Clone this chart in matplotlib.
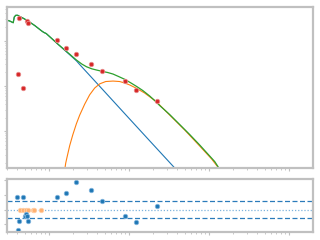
import numpy as np
import matplotlib
matplotlib.use("Agg")
import matplotlib.pyplot as plt

# observed points
data_x = [0.413, 0.425, 0.477, 0.535, 0.546, 1.27, 1.66, 2.19, 3.38, 4.63, 8.99, 12.3, 22.6]
data_y = [18.1, 313, 8.85, 269, 243, 102, 67.9, 50.0, 30.0, 21.0, 12.8, 8.0, 4.63]

# model curves
total_x = [0.296, 0.325, 0.360, 0.371, 0.387, 0.410, 0.434, 0.487, 0.551, 0.668, 0.818,
           0.866, 0.931, 1.09, 1.31, 1.73, 2.22, 2.59, 2.96, 3.45, 3.95, 4.77, 5.46,
           6.37, 7.50, 8.91, 10.6, 12.6, 15.0, 18.3, 21.8, 24.4, 28.2, 32.5, 43.4,
           57.9, 77.2, 103, 119, 131, 135]
total_y = [287, 273, 250, 334, 365, 365, 343, 310, 273, 217, 164,
           153, 144, 112, 83.2, 54.8, 37.4, 30.5, 26.6, 23.9, 22.5, 20.8, 19.8,
           18.3, 16.1, 14.0, 11.7, 9.70, 7.91, 5.98, 4.52, 3.68, 2.93, 2.33, 1.40,
           0.841, 0.493, 0.281, 0.212, 0.163, 0.124]

plaw_x = [0.296, 0.325, 0.360, 0.371, 0.387, 0.410, 0.434, 0.487, 0.551, 0.668, 0.818,
          0.866, 0.931, 1.09, 1.31, 1.73, 2.22, 2.44, 4.34, 9.36, 18.3, 37.6, 39.8]
plaw_y = [287, 273, 250, 334, 365, 365, 343, 310, 273, 217, 164,
          153, 144, 112, 83.2, 53.5, 35.9, 29.7, 9.80, 2.22, 0.610, 0.153, 0.131]

bump_x = [1.57, 1.63, 1.68, 1.83, 2.00, 2.22, 2.44, 2.82, 3.25, 3.76, 4.34, 5.16, 6.37,
          7.72, 8.91, 10.3, 12.5, 15.8, 22.2, 32.5, 50.1, 77.2, 109, 130, 135]
bump_y = [0.124, 0.194, 0.248, 0.478, 0.828, 1.46, 2.26, 3.96, 6.35, 8.99, 11.1, 12.5, 12.8,
          12.5, 11.6, 10.5, 8.85, 6.97, 4.47, 2.27, 1.06, 0.468, 0.241, 0.161, 0.124]

# residuals
res_x = [0.401, 0.413, 0.425, 0.477, 0.506, 0.516, 0.535, 0.551, 1.27, 1.63, 2.18,
         3.35, 4.63, 8.99, 12.3, 22.6]
res_y = [1.69, -2.76, -1.54, 1.69, -0.82, -0.59, -0.90, -1.54, 1.69, 2.23, 3.73,
         2.64, 1.14, -0.90, -1.71, 0.46]
ul_x = [0.443, 0.477, 0.516, 0.551, 0.637, 0.655, 0.801]
ul_y = [0, 0, 0, 0, 0, 0, 0]
res_band = 1.17

spine_col = "#c0c0c0"

fig = plt.figure(figsize=(3.2, 2.4), dpi=100)
ax = fig.add_axes([0.021, 0.298, 0.956, 0.674])
axr = fig.add_axes([0.021, 0.032, 0.956, 0.222], sharex=ax)

ax.plot(plaw_x, plaw_y, color="#1f77b4", lw=0.8)
ax.plot(bump_x, bump_y, color="#ff7f0e", lw=0.8)
ax.plot(total_x, total_y, color="#2ca02c", lw=0.9)
ax.plot(data_x, data_y, "o", color="#d62728", ms=3.2, mec="#e88a8a", mew=0.6)

ax.set_xscale("log")
ax.set_yscale("log")
ax.set_xlim(0.2985, 1995)
ax.set_ylim(0.149, 565)

axr.axhline(res_band, color="#2b7bba", lw=0.9, ls=(0, (4, 2)))
axr.axhline(-res_band, color="#2b7bba", lw=0.9, ls=(0, (4, 2)))
axr.axhline(0, color="#7fb3dc", lw=0.9, ls=(0, (1, 1.5)))
axr.plot(ul_x, ul_y, "o", color="#ffb070", ms=3.2, mec="#ffd0a8", mew=0.6)
axr.plot(res_x, res_y, "o", color="#1f77b4", ms=3.2, mec="#7fb3dc", mew=0.6)
axr.set_ylim(-3.07, 4.18)
axr.set_yticks([-2, 0, 2, 4])

for a in (ax, axr):
    for s in a.spines.values():
        s.set_color(spine_col)
        s.set_linewidth(1.6)
    a.tick_params(which="both", colors=spine_col, labelleft=False, labelbottom=False,
                  direction="out")
    a.tick_params(which="major", length=2.5, width=0.8)
    a.tick_params(which="minor", length=1.5, width=0.6)

fig.savefig("out.png", dpi=100)
